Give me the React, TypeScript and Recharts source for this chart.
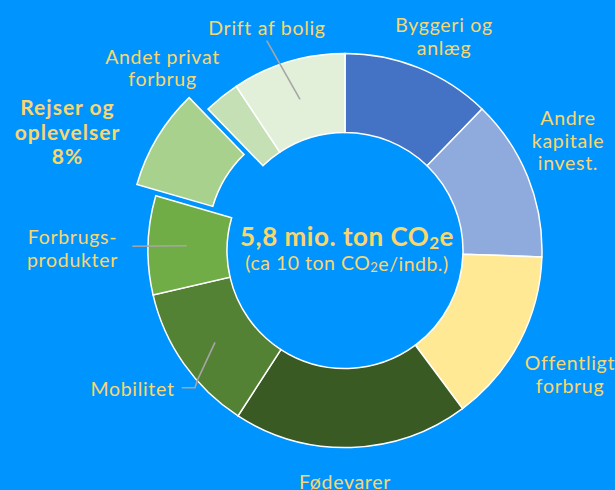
import React from 'react';
import { PieChart, Pie, Cell } from 'recharts';

// emissions, mio. ton CO2e (total 5,8)
const categories = [
  'Byggeri og anlæg',
  'Andre kapitale invest.',
  'Offentligt forbrug',
  'Fødevarer',
  'Mobilitet',
  'Forbrugsprodukter',
  'Rejser og oplevelser',
  'Andet privat forbrug',
  'Drift af bolig',
];
const values = [0.71, 0.77, 0.83, 1.12, 0.71, 0.47, 0.48, 0.17, 0.54];
const colors = ['#4472C4', '#8FAADC', '#FFE994', '#3A5A23', '#548235', '#70AD47', '#A9D18E', '#C5E0B4', '#E2F0D9'];
const highlighted = 'Rejser og oplevelser';

const data = categories.map((name, i) => ({ name, value: values[i] }));

const W = 615;
const H = 490;
const CX = 345;
const CY = 250.5;
const INNER = 118;
const OUTER = 197;
const EXPLODE = 22;
const TEXT = '#FAD66E';
const FONT = 'Lato, sans-serif';

// offset of the exploded slice along its mid angle
const total = values.reduce((a, b) => a + b, 0);
const hiIdx = categories.indexOf(highlighted);
const before = values.slice(0, hiIdx).reduce((a, b) => a + b, 0);
const midDeg = ((before + values[hiIdx] / 2) / total) * 360;
const exDx = EXPLODE * Math.sin((midDeg * Math.PI) / 180);
const exDy = -EXPLODE * Math.cos((midDeg * Math.PI) / 180);

// label text, positions relative to centre
const labels = [
  { lines: ['Drift af bolig'], x: -78, y: -223.5 },
  { lines: ['Byggeri og', 'anlæg'], x: 99, y: -226.5 },
  { lines: ['Andre', 'kapitale', 'invest.'], x: 223, y: -133.5 },
  { lines: ['Offentligt', 'forbrug'], x: 225, y: 111.5 },
  { lines: ['Fødevarer'], x: 0, y: 230 },
  { lines: ['Mobilitet'], x: -212.5, y: 137.5 },
  { lines: ['Forbrugs-', 'produkter'], x: -272.5, y: -14.5 },
  { lines: ['Andet privat', 'forbrug'], x: -182.5, y: -195 },
];

const leaders = [
  [[266.7, 40.7], [300, 99.3]],
  [[132.3, 246.3], [186.7, 245.7]],
  [[181.7, 387.7], [195, 387.7], [197.5, 380], [215, 342.3]],
];

export default function App() {
  return (
    <div style={{ position: 'absolute', left: 0, top: 0, width: W, height: H, background: '#0094FE', overflow: 'hidden' }}>
      <PieChart width={W} height={H} margin={{ top: 0, right: 0, bottom: 0, left: 0 }}>
        <Pie
          data={data}
          dataKey="value"
          nameKey="name"
          cx={CX}
          cy={CY}
          innerRadius={INNER}
          outerRadius={OUTER}
          startAngle={90}
          endAngle={-270}
          stroke="#FFFFFF"
          strokeWidth={1.5}
          isAnimationActive={false}
        >
          {data.map((d, i) => (
            <Cell
              key={d.name}
              fill={d.name === highlighted ? 'transparent' : colors[i]}
              stroke={d.name === highlighted ? 'none' : '#FFFFFF'}
            />
          ))}
        </Pie>
        <Pie
          data={data}
          dataKey="value"
          nameKey="name"
          cx={CX + exDx}
          cy={CY + exDy}
          innerRadius={INNER}
          outerRadius={OUTER}
          startAngle={90}
          endAngle={-270}
          stroke="#FFFFFF"
          strokeWidth={1.5}
          isAnimationActive={false}
        >
          {data.map((d, i) => (
            <Cell
              key={d.name}
              fill={d.name === highlighted ? colors[i] : 'transparent'}
              stroke={d.name === highlighted ? '#FFFFFF' : 'none'}
            />
          ))}
        </Pie>
      </PieChart>

      {/* labels and leader lines on top of the slices */}
      <svg width={W} height={H} style={{ position: 'absolute', left: 0, top: 0, pointerEvents: 'none' }}>
        {leaders.map((pts, i) => (
          <polyline
            key={i}
            points={pts.map((p) => p.join(',')).join(' ')}
            fill="none"
            stroke="#A6A6A6"
            strokeWidth={1.6}
          />
        ))}

        {labels.map((l) => (
          <text
            key={l.lines[0]}
            x={CX + l.x}
            y={CY + l.y}
            textAnchor="middle"
            dominantBaseline="central"
            fill={TEXT}
            fontFamily={FONT}
            fontSize={19.5}
            letterSpacing={0.7}
          >
            {l.lines.map((ln, j) => (
              <tspan key={j} x={CX + l.x} dy={j === 0 ? 0 : 22.7}>
                {ln}
              </tspan>
            ))}
          </text>
        ))}

        <text
          x={CX - 277.5}
          y={CY - 144.5}
          textAnchor="middle"
          dominantBaseline="central"
          fill={TEXT}
          fontFamily={FONT}
          fontSize={21}
          fontWeight={700}
          letterSpacing={1}
        >
          <tspan x={CX - 277.5} dy={0}>Rejser og</tspan>
          <tspan x={CX - 277.5} dy={24.5}>oplevelser</tspan>
          <tspan x={CX - 277.5} dy={24.5}>{Math.round((values[hiIdx] / total) * 100)}%</tspan>
        </text>

        <text x={CX + 2} y={CY - 14.5} textAnchor="middle" dominantBaseline="central" fill={TEXT} fontFamily={FONT} fontSize={26} fontWeight={700} letterSpacing={0.5}>
          {`${total.toFixed(1).replace('.', ',')} mio. ton CO`}
          <tspan fontSize={17} dy={6}>2</tspan>
          <tspan dy={-6}>e</tspan>
        </text>
        <text x={CX + 2} y={CY + 12} textAnchor="middle" dominantBaseline="central" fill={TEXT} fontFamily={FONT} fontSize={19.5} letterSpacing={0.5}>
          (ca 10 ton CO
          <tspan fontSize={13} dy={4}>2</tspan>
          <tspan dy={-4}>e/indb.)</tspan>
        </text>
      </svg>
    </div>
  );
}
